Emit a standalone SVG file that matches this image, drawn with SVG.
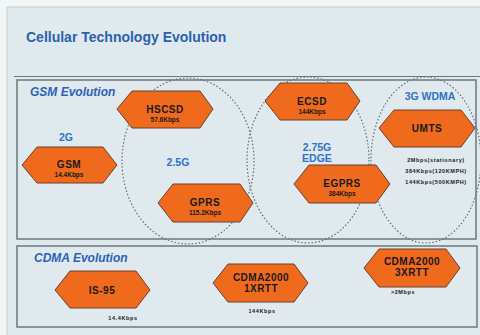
<svg xmlns="http://www.w3.org/2000/svg" width="480" height="335" viewBox="0 0 480 335">
<style>
.hex{fill:#ef6a1c;stroke:#6a4030;stroke-width:1}
.t{font-family:"Liberation Sans",Arial,sans-serif;font-weight:bold;fill:#1a1a1a;text-anchor:middle}
.n{font-size:10px;letter-spacing:0.5px}
.s{font-size:6.5px}
.xs{font-size:5.5px;letter-spacing:0.6px}
.b{font-family:"Liberation Sans",Arial,sans-serif;font-weight:bold;fill:#2f72c8;text-anchor:middle;font-size:10.5px}
.h{font-family:"Liberation Sans",Arial,sans-serif;font-weight:bold;font-style:italic;fill:#2a62b8;font-size:12px}
.ell{fill:none;stroke:#5f6f76;stroke-width:1.2;stroke-dasharray:1.5 2}
.box{fill:none;stroke:#6a7a7c;stroke-width:1.5}
</style>
<rect width="480" height="335" fill="#f3f6f7"/>
<rect x="7" y="7" width="480" height="335" fill="#dfe9ee" stroke="#c8d0d4" stroke-width="1"/>
<text x="26" y="42" font-family="Liberation Sans,Arial,sans-serif" font-weight="bold" font-size="14" fill="#2a62b0">Cellular Technology Evolution</text>
<line x1="14" y1="76.5" x2="480" y2="76.5" stroke="#6a7a7c" stroke-width="1"/>
<g id="gsm-box">
<rect class="box" x="17" y="80" width="459" height="159"/>
<text class="h" x="30" y="96">GSM Evolution</text>
</g>
<g id="cdma-box">
<rect class="box" x="17" y="246" width="460" height="81"/>
<text class="h" x="34" y="262">CDMA Evolution</text>
</g>
<g id="connectors">
<ellipse class="ell" cx="188" cy="161" rx="66" ry="83"/>
<ellipse class="ell" cx="308" cy="160" rx="61" ry="83"/>
<ellipse class="ell" cx="426" cy="160" rx="55" ry="83"/>
</g>
<g id="label-2g"><text class="b" x="66" y="141">2G</text></g>
<g id="label-25g"><text class="b" x="178" y="166">2.5G</text></g>
<g id="label-275g"><text class="b" x="317" y="151">2.75G</text><text class="b" x="317" y="162">EDGE</text></g>
<g id="label-3g"><text class="b" x="430" y="100">3G WDMA</text></g>
<g id="gsm">
<polygon class="hex" points="22,165 37,147 103,147 117,165 103,183 37,183"/>
<text class="t n" x="69" y="168">GSM</text><text class="t s" x="69" y="177">14.4Kbps</text>
</g>
<g id="hscsd">
<polygon class="hex" points="117,109 132,91 200,91 213,109 200,128 132,128"/>
<text class="t n" x="165" y="113">HSCSD</text><text class="t s" x="165" y="122">57.6Kbps</text>
</g>
<g id="gprs">
<polygon class="hex" points="158,203 173,184 240,184 253,203 240,222 173,222"/>
<text class="t n" x="205" y="206">GPRS</text><text class="t s" x="205" y="215">115.2Kbps</text>
</g>
<g id="ecsd">
<polygon class="hex" points="265,101 280,83 347,83 360,101 347,120 280,120"/>
<text class="t n" x="312" y="105">ECSD</text><text class="t s" x="312" y="114">144Kbps</text>
</g>
<g id="egprs">
<polygon class="hex" points="294,184 309,165 376,165 390,184 376,203 309,203"/>
<text class="t n" x="342" y="187">EGPRS</text><text class="t s" x="342" y="196">384Kbps</text>
</g>
<g id="umts">
<polygon class="hex" points="379,128 394,110 461,110 475,128 461,147 394,147"/>
<text class="t n" x="427" y="132">UMTS</text>
<text class="t xs" x="436" y="162">2Mbps(stationary)</text>
<text class="t xs" x="436" y="173">384Kbps(120KMPH)</text>
<text class="t xs" x="436" y="184">144Kbps(500KMPH)</text>
</g>
<g id="is95">
<polygon class="hex" points="55,290 70,271 136,271 150,290 136,308 70,308"/>
<text class="t n" x="102" y="294">IS-95</text>
<text class="t xs" x="123" y="320">14.4Kbps</text>
</g>
<g id="cdma1x">
<polygon class="hex" points="213,283 228,264 294,264 308,283 294,302 228,302"/>
<text class="t n" x="261" y="281">CDMA2000</text><text class="t n" x="261" y="292">1XRTT</text>
<text class="t xs" x="262" y="313">144Kbps</text>
</g>
<g id="cdma3x">
<polygon class="hex" points="364,268 379,249 446,249 460,268 446,287 379,287"/>
<text class="t n" x="412" y="265">CDMA2000</text><text class="t n" x="412" y="276">3XRTT</text>
<text class="t xs" x="403" y="294">&gt;2Mbps</text>
</g>
</svg>
